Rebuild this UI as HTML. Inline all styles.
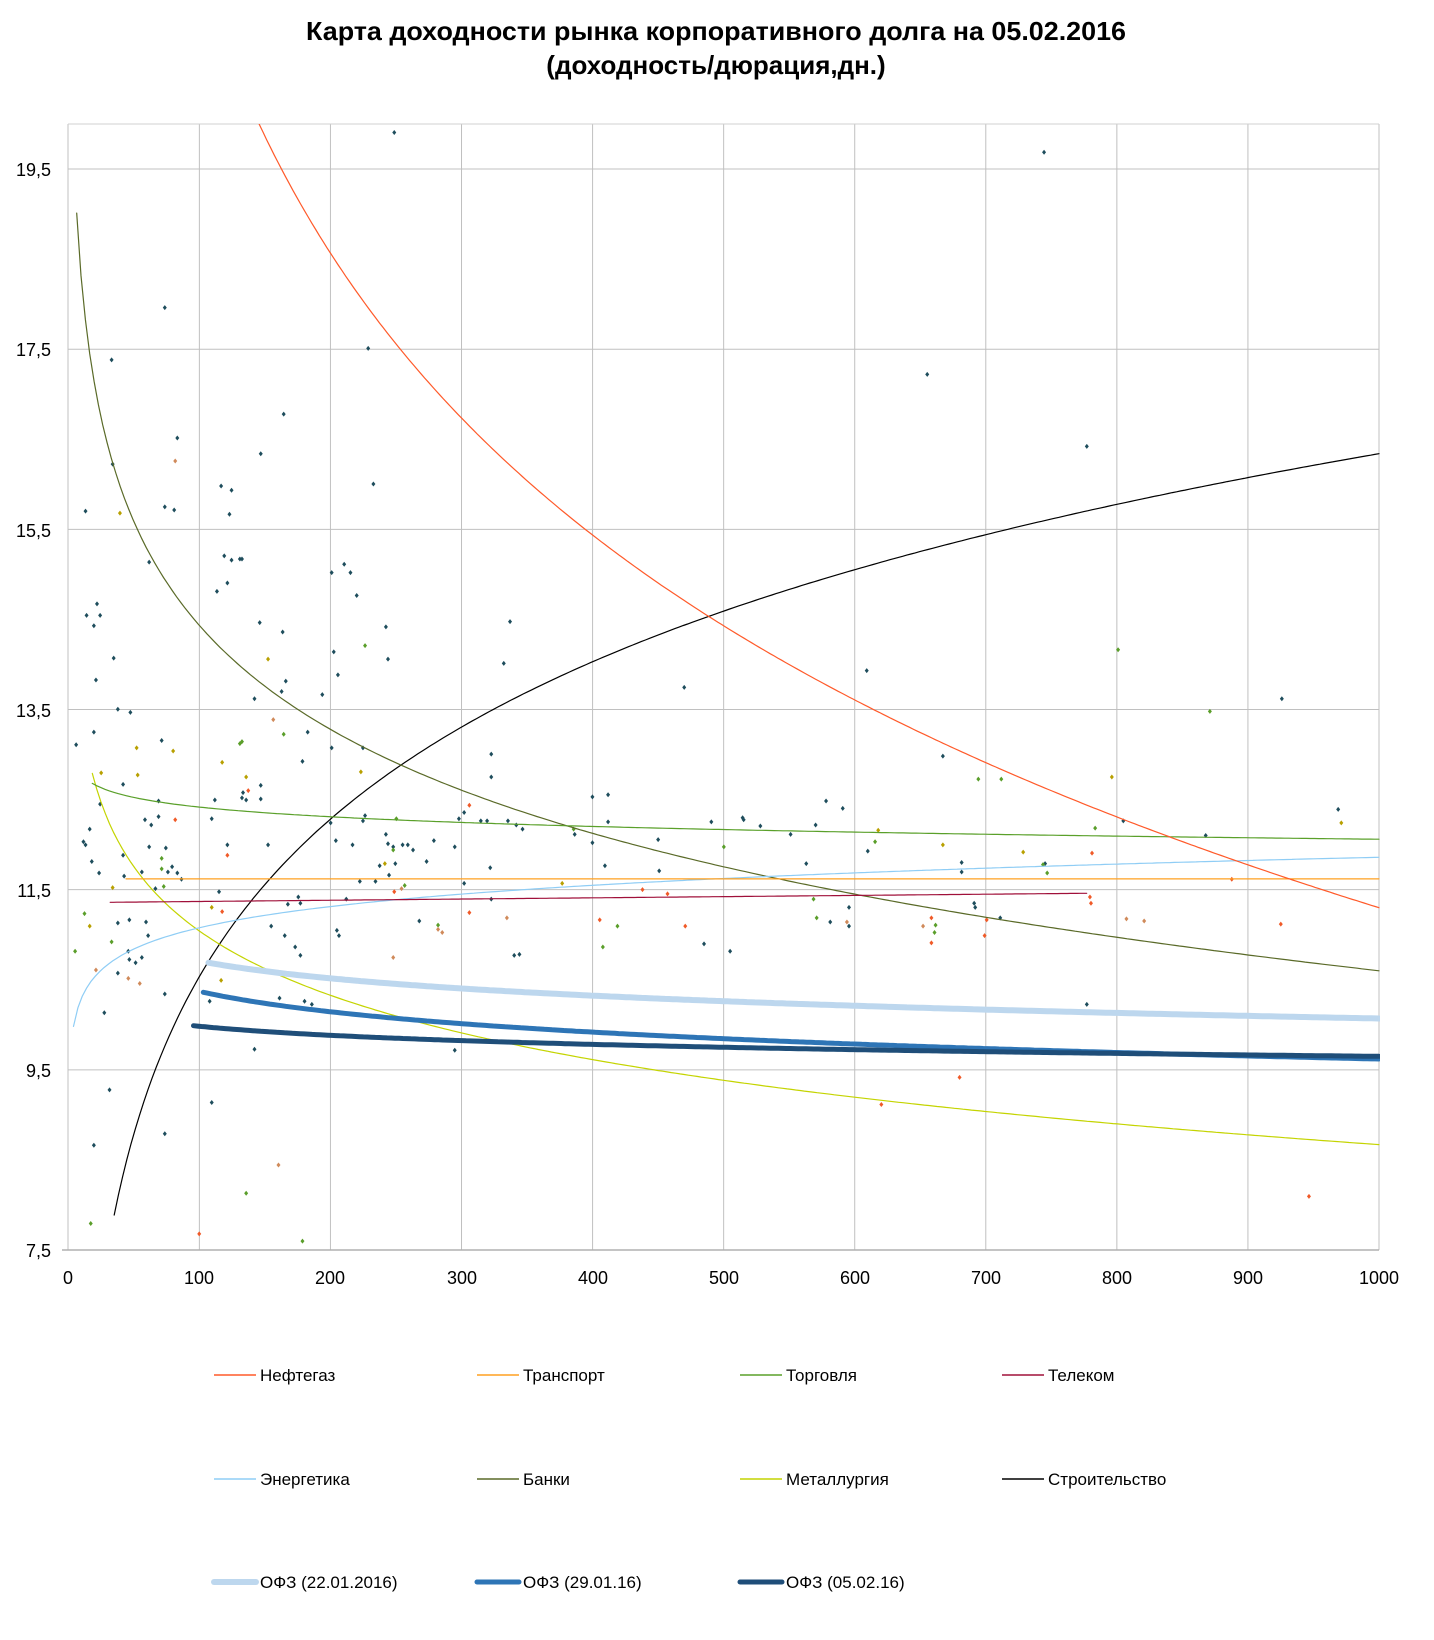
<!DOCTYPE html>
<html><head><meta charset="utf-8">
<style>
html,body{margin:0;padding:0;background:#fff;}
body{width:1434px;height:1635px;overflow:hidden;font-family:"Liberation Sans",sans-serif;}
svg text{font-family:"Liberation Sans",sans-serif;}
</style></head>
<body>
<svg id="c" width="1434" height="1635" xmlns="http://www.w3.org/2000/svg">
<defs><clipPath id="pc"><rect x="68" y="124" width="1312" height="1127"/></clipPath></defs>
<text x="716" y="40" text-anchor="middle" font-size="26" font-weight="bold" textLength="820" lengthAdjust="spacingAndGlyphs">Карта доходности рынка корпоративного долга на 05.02.2016</text>
<text x="716" y="74" text-anchor="middle" font-size="26" font-weight="bold">(доходность/дюрация,дн.)</text>
<g id="grid"></g>
<g font-size="18" fill="#000" text-anchor="end">
<text x="51" y="1257">7,5</text>
<text x="51" y="1077">9,5</text>
<text x="51" y="897">11,5</text>
<text x="51" y="717">13,5</text>
<text x="51" y="537">15,5</text>
<text x="51" y="356">17,5</text>
<text x="51" y="176">19,5</text>
</g>
<g font-size="18" fill="#000" text-anchor="middle">
<text x="68" y="1284">0</text><text x="199" y="1284">100</text><text x="330" y="1284">200</text>
<text x="462" y="1284">300</text><text x="593" y="1284">400</text><text x="724" y="1284">500</text>
<text x="855" y="1284">600</text><text x="986" y="1284">700</text><text x="1117" y="1284">800</text>
<text x="1248" y="1284">900</text><text x="1379" y="1284">1000</text>
</g>
<g id="pts"></g>
<g id="curves" clip-path="url(#pc)" fill="none"></g>
<g font-size="17" fill="#000">
<line x1="214" y1="1375" x2="256" y2="1375" stroke="#ff5a2a" stroke-width="1.5"/><text x="260" y="1381">Нефтегаз</text>
<line x1="477" y1="1375" x2="519" y2="1375" stroke="#ffa020" stroke-width="1.5"/><text x="523" y="1381">Транспорт</text>
<line x1="740" y1="1375" x2="782" y2="1375" stroke="#5aa02a" stroke-width="1.5"/><text x="786" y="1381">Торговля</text>
<line x1="1002" y1="1375" x2="1044" y2="1375" stroke="#a0103a" stroke-width="1.5"/><text x="1048" y="1381">Телеком</text>
<line x1="214" y1="1479" x2="256" y2="1479" stroke="#8fcdf5" stroke-width="1.5"/><text x="260" y="1485">Энергетика</text>
<line x1="477" y1="1479" x2="519" y2="1479" stroke="#5a6a28" stroke-width="1.5"/><text x="523" y="1485">Банки</text>
<line x1="740" y1="1479" x2="782" y2="1479" stroke="#c4d400" stroke-width="1.5"/><text x="786" y="1485">Металлургия</text>
<line x1="1002" y1="1479" x2="1044" y2="1479" stroke="#000" stroke-width="1.5"/><text x="1048" y="1485">Строительство</text>
<line x1="214" y1="1582" x2="256" y2="1582" stroke="#bdd7ee" stroke-width="6" stroke-linecap="round"/><text x="260" y="1588">ОФЗ (22.01.2016)</text>
<line x1="477" y1="1582" x2="519" y2="1582" stroke="#2e75b6" stroke-width="5" stroke-linecap="round"/><text x="523" y="1588">ОФЗ (29.01.16)</text>
<line x1="740" y1="1582" x2="782" y2="1582" stroke="#1f4e79" stroke-width="5" stroke-linecap="round"/><text x="786" y="1588">ОФЗ (05.02.16)</text>
</g>
</svg>
<script>
var NS="http://www.w3.org/2000/svg";
function X(x){return 68.3+x*1.3107;}
function Y(v){return 1250-(v-7.5)*90.08;}
function el(p,t,a){var e=document.createElementNS(NS,t);for(var k in a)e.setAttribute(k,a[k]);p.appendChild(e);return e;}
var g=document.getElementById('grid');
for(var i=1;i<=10;i++){el(g,'line',{x1:X(i*100),x2:X(i*100),y1:124,y2:1250,stroke:'#c0c0c0','stroke-width':1});}
for(var v=9.5;v<20;v+=2){el(g,'line',{x1:68,x2:1379,y1:Y(v),y2:Y(v),stroke:'#c0c0c0','stroke-width':1});}
el(g,'line',{x1:68,x2:68,y1:124,y2:1250,stroke:'#c0c0c0','stroke-width':1});
el(g,'line',{x1:68,x2:1379,y1:124,y2:124,stroke:'#d0d0d0','stroke-width':1});
el(g,'line',{x1:62,x2:1379,y1:1250,y2:1250,stroke:'#b0b0b0','stroke-width':1.5});
var cv=document.getElementById('curves');
function curve(f,x0,x1,col,w){var d='';for(var i=0;i<=300;i++){var x=x0+(x1-x0)*i/300;d+=(i?'L':'M')+X(x).toFixed(1)+','+Y(f(x)).toFixed(1);}el(cv,'path',{d:d,stroke:col,'stroke-width':w,'stroke-linecap':'round'});}
var L=Math.log;
curve(function(x){return 16.34+2.521*L(x/1000);},35,1000,'#000',1.2);
curve(function(x){return 10.6-1.665*L(x/1000);},6.4,1000,'#5a6a28',1.2);
curve(function(x){return 8.67-1.03*L(x/1000);},18.3,1000,'#c4d400',1.2);
curve(function(x){return 12.06-0.155*L(x/1000);},18.3,1000,'#5aa02a',1.2);
curve(function(x){return 11.86+0.34*L(x/1000);},4,1000,'#8fcdf5',1.2);
curve(function(x){return 11.62;},44,1000,'#ffa020',1.2);
curve(function(x){return 11.36+0.1*(x-32)/745;},32,777,'#a0103a',1.2);
curve(function(x){return 11.3-4.515*L(x/1000);},140,1000,'#ff5a2a',1.2);
curve(function(x){return 10.07-0.277*L(x/1000);},107,1000,'#bdd7ee',6);
curve(function(x){return 9.62-0.326*L(x/1000);},103,1000,'#2e75b6',5);
curve(function(x){return 9.65-0.145*L(x/1000);},95.5,1000,'#1f4e79',5);
var C={d:'#1e4d5c',g:'#5a9e2a',o:'#f05a28',y:'#b8a000',t:'#d08a5a'};
var P={
d:[378,127,1001,146,158,295,107,345,353,334,889,359,272,397,1042,428,170,420,108,445,250,435,358,464,82,490,158,486,167,489,212,466,222,470,220,493,215,533,208,567,222,537,230,536,218,559,232,536,143,539,93,579,83,590,96,590,90,600,109,631,92,652,249,597,271,606,318,549,330,541,336,549,342,571,320,625,324,647,309,666,370,601,372,632,489,596,483,636,656,659,831,643,904,725,1229,670,1283,776,73,714,90,702,125,683,113,680,155,710,244,670,270,663,274,653,295,702,318,717,348,717,290,730,250,753,233,760,232,765,236,767,250,766,257,810,206,767,203,785,218,810,210,855,96,771,118,752,152,768,152,783,139,786,145,791,143,812,159,813,165,831,161,836,170,837,174,843,149,852,86,795,80,807,88,826,95,837,82,810,118,820,119,840,124,882,113,885,113,933,100,971,136,836,140,884,142,897,123,912,124,920,130,923,136,918,158,953,158,1087,105,1045,90,1098,201,960,203,1057,244,1006,260,888,273,897,283,908,268,957,276,867,286,860,288,866,288,916,292,960,299,963,317,789,322,806,338,810,348,787,350,782,370,800,372,809,377,812,386,810,391,810,396,815,409,826,379,828,364,830,373,839,360,845,345,845,332,862,323,892,325,897,402,883,416,806,436,812,436,1007,440,785,445,779,461,787,467,787,471,723,471,745,487,787,495,791,501,795,493,916,498,915,470,832,445,847,471,862,551,800,568,764,583,788,583,762,568,808,580,830,631,805,632,835,682,788,675,905,700,912,712,784,713,786,729,792,758,800,773,828,782,791,792,768,808,775,832,816,814,870,814,888,796,884,922,827,922,836,934,866,935,870,959,880,1002,828,1042,963,1077,787,1156,801],
g:[72,912,81,876,87,1173,107,903,155,823,155,833,157,850,232,711,236,1144,290,1190,230,713,272,704,350,619,380,785,377,815,388,849,420,887,550,795,592,888,694,812,783,880,839,807,896,894,938,747,960,747,1000,829,1004,837,1072,623,1050,794,1160,682,780,862,578,908,897,887],
o:[168,786,191,1183,213,874,218,820,238,758,378,855,450,772,450,875,575,882,616,853,640,857,657,888,845,1059,893,880,893,904,920,1033,944,897,946,882,1047,818,1046,866,1045,860,1181,843,1228,886,1255,1147],
y:[86,888,97,741,115,492,131,717,132,743,108,851,166,720,203,870,212,940,213,731,236,745,257,632,346,740,369,828,539,847,842,796,904,810,981,817,1066,745,1286,789],
t:[168,442,262,690,92,930,123,938,134,943,267,1117,377,918,385,852,420,891,424,894,486,880,812,884,885,888,1080,881,1097,883]};
var pg=document.getElementById('pts');
for(var k in P){var a=P[k];for(var i=0;i<a.length;i+=2){var x=a[i]*1.043,y=a[i+1]*1.043;el(pg,'path',{d:'M'+x+','+(y-2.5)+'L'+(x+2)+','+y+'L'+x+','+(y+2.5)+'L'+(x-2)+','+y+'Z',fill:C[k]});}}
</script>
</body></html>
